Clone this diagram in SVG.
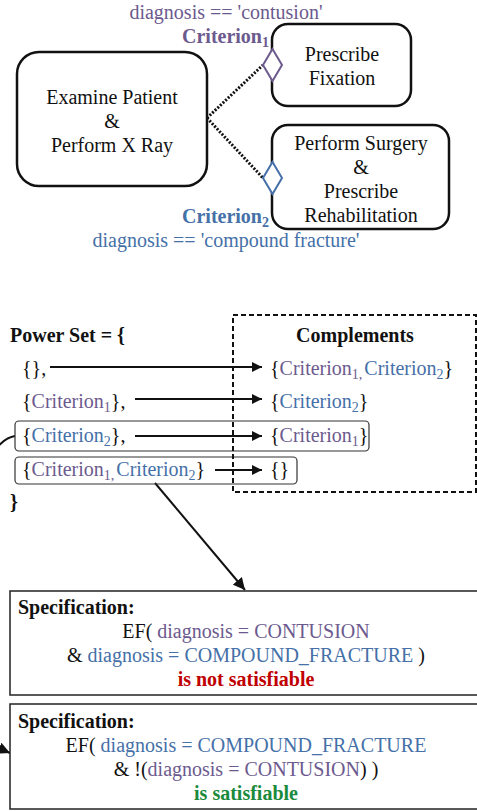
<svg xmlns="http://www.w3.org/2000/svg" width="477" height="811" viewBox="0 0 477 811" font-family="'Liberation Serif', 'DejaVu Serif', 'Times New Roman', serif">
<style>
text{font-family:'Liberation Serif','DejaVu Serif','Times New Roman',serif;font-size:20px;fill:#111}
.b{font-weight:bold}
.p{fill:#6c5a8e}
.bl{fill:#4570a8}
.c{text-anchor:middle}
.s{font-size:14px}
.node{fill:#fff;stroke:#111;stroke-width:2.5}
.spec{fill:#fff;stroke:#222;stroke-width:1.5}
.row{fill:none;stroke:#333;stroke-width:1.2}
.ln{fill:none;stroke:#111;stroke-width:2}
.dot{fill:none;stroke:#111;stroke-width:3;stroke-dasharray:2,1.6}
</style>
<defs>
<marker id="ah" viewBox="0 0 10 10" refX="10" refY="5" markerWidth="5" markerHeight="5" orient="auto" markerUnits="strokeWidth">
<path d="M0,0 L10,5 L0,10 Z" fill="#111"/>
</marker>
<marker id="ah2" viewBox="0 0 10 10" refX="10" refY="5" markerWidth="6" markerHeight="6" orient="auto" markerUnits="strokeWidth">
<path d="M0,0 L10,5 L0,10 Z" fill="#111"/>
</marker>
</defs>

<g id="connectors">
<path class="dot" d="M207,118 L263,65"/>
<path class="dot" d="M207,118 L263,178"/>
<line class="ln" x1="50" y1="367" x2="262" y2="367" marker-end="url(#ah)"/>
<line class="ln" x1="135" y1="399" x2="262" y2="399" marker-end="url(#ah)"/>
<line class="ln" x1="135" y1="436" x2="262" y2="436" marker-end="url(#ah)"/>
<line class="ln" x1="215" y1="470" x2="262" y2="470" marker-end="url(#ah)"/>
<line class="ln" x1="155" y1="483" x2="245" y2="590" marker-end="url(#ah2)"/>
<path class="ln" d="M15,436 C8,437 2,441 -5,450 L-30,700 L-20,740 L10,753" marker-end="url(#ah2)"/>
</g>

<g id="examine">
<rect class="node" x="17" y="52" width="190" height="134" rx="22"/>
<text class="c" x="112" y="104">Examine Patient</text>
<text class="c" x="112" y="128">&amp;</text>
<text class="c" x="112" y="152">Perform X Ray</text>
</g>
<g id="fixation">
<rect class="node" x="272" y="24" width="139" height="82" rx="16"/>
<text class="c" x="342" y="61">Prescribe</text>
<text class="c" x="342" y="85">Fixation</text>
</g>
<g id="surgery">
<rect class="node" x="272" y="125" width="177" height="104" rx="16"/>
<text class="c" x="361" y="150">Perform Surgery</text>
<text class="c" x="361" y="174">&amp;</text>
<text class="c" x="361" y="198">Prescribe</text>
<text class="c" x="361" y="222">Rehabilitation</text>
</g>
<g id="criterion1">
<path d="M272.5,49 L282,65 L272.5,81 L263,65 Z" fill="#fff" stroke="#6c5a8e" stroke-width="2"/>
<text class="c p" x="226" y="19">diagnosis == 'contusion'</text>
<text class="b p" x="182" y="43">Criterion<tspan class="s" dy="4">1</tspan></text>
</g>
<g id="criterion2">
<path d="M272.5,162 L282,178 L272.5,194 L263,178 Z" fill="#fff" stroke="#4570a8" stroke-width="2"/>
<text class="b bl" x="182" y="223">Criterion<tspan class="s" dy="4">2</tspan></text>
<text class="c bl" x="226" y="247">diagnosis == 'compound fracture'</text>
</g>

<g id="powerset">
<text class="b" x="10" y="342">Power Set = {</text>
<text x="22" y="375">{},</text>
<text x="22" y="408">{<tspan class="p">Criterion<tspan class="s" dy="4">1</tspan></tspan><tspan dy="-4">},</tspan></text>
<rect class="row" x="15" y="421" width="354" height="30" rx="4"/>
<text x="22" y="442">{<tspan class="bl">Criterion<tspan class="s" dy="4">2</tspan></tspan><tspan dy="-4">},</tspan></text>
<rect class="row" x="15" y="457" width="282" height="27" rx="4"/>
<text x="22" y="476">{<tspan class="p">Criterion<tspan class="s" dy="4">1,</tspan></tspan><tspan class="bl" dx="2" dy="-4">Criterion<tspan class="s" dy="4">2</tspan></tspan><tspan dy="-4">}</tspan></text>
<text class="b" x="10" y="509">}</text>
</g>

<g id="complements">
<rect x="233" y="315" width="243" height="177" fill="none" stroke="#111" stroke-width="2" stroke-dasharray="5,3"/>
<text class="b c" x="355" y="342">Complements</text>
<text x="270" y="375">{<tspan class="p">Criterion<tspan class="s" dy="4">1,</tspan></tspan><tspan class="bl" dx="2" dy="-4">Criterion<tspan class="s" dy="4">2</tspan></tspan><tspan dy="-4">}</tspan></text>
<text x="270" y="408">{<tspan class="bl">Criterion<tspan class="s" dy="4">2</tspan></tspan><tspan dy="-4">}</tspan></text>
<text x="270" y="442">{<tspan class="p">Criterion<tspan class="s" dy="4">1</tspan></tspan><tspan dy="-4">}</tspan></text>
<text x="270" y="476">{}</text>
</g>

<g id="spec1">
<rect class="spec" x="10" y="591" width="480" height="104"/>
<text class="b" x="18" y="614">Specification:</text>
<text class="c" x="246" y="638">EF( <tspan class="p">diagnosis = CONTUSION</tspan></text>
<text class="c" x="246" y="662">&amp; <tspan class="bl">diagnosis = COMPOUND_FRACTURE</tspan> )</text>
<text class="c b" x="246" y="686" style="fill:#c00000">is not satisfiable</text>
</g>
<g id="spec2">
<rect class="spec" x="10" y="704" width="480" height="105"/>
<text class="b" x="18" y="728">Specification:</text>
<text class="c" x="246" y="752">EF( <tspan class="bl">diagnosis = COMPOUND_FRACTURE</tspan></text>
<text class="c" x="246" y="776">&amp; !(<tspan class="p">diagnosis = CONTUSION</tspan>) )</text>
<text class="c b" x="246" y="800" style="fill:#1a8a3c">is satisfiable</text>
</g>
</svg>
